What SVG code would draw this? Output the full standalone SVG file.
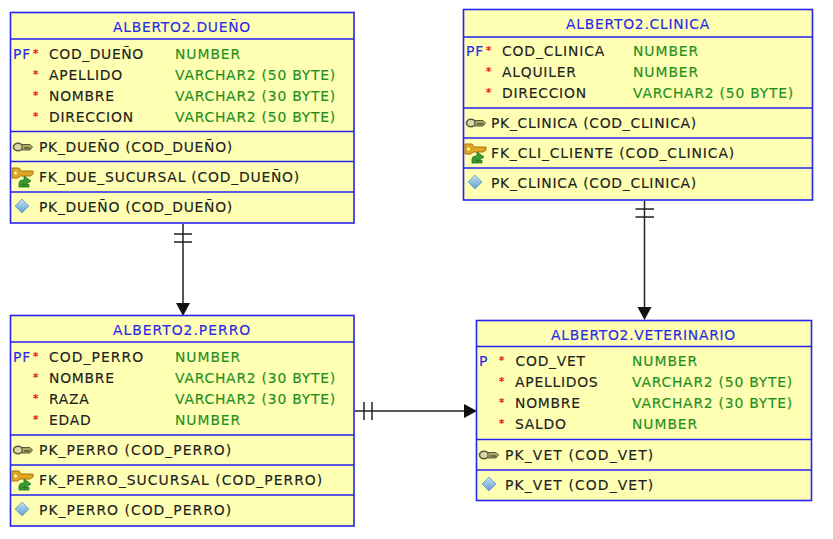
<svg xmlns="http://www.w3.org/2000/svg" xmlns:xlink="http://www.w3.org/1999/xlink" width="833" height="539" viewBox="0 0 833 539">
<style>
text{font-family:"DejaVu Sans",sans-serif;font-size:13.9px;letter-spacing:.75px;fill:#222;stroke:#222;stroke-width:.15}
.box{fill:#ffffb3;stroke:#2424f0;stroke-width:1.6}
.sep{stroke:#2424f0;stroke-width:1.6;fill:none}
text.title{fill:#2a2ae8;stroke:#2a2ae8;text-anchor:middle}
text.k{fill:#2a2ae8;stroke:#2a2ae8}
text.r{fill:#f02020;stroke:#f02020;font-size:10px;font-weight:bold;letter-spacing:0}
text.t{fill:#1f8f1f;stroke:#1f8f1f}
.c{stroke:#222;stroke-width:1.5;fill:none}
.a{fill:#111}
</style>
<defs>
<linearGradient id="dg" x1="0" y1="0" x2="0" y2="1"><stop offset="0" stop-color="#c4e2f4"/><stop offset="1" stop-color="#5f9fcf"/></linearGradient>
<g id="key"><ellipse cx="5" cy="0" rx="4.500" ry="3.800" fill="#d8d8a8" stroke="#5a5a40" stroke-width="1.600"/><path d="M9 -2.500H17L19.500 0L17 3H9Z" fill="#a8a860" stroke="#5a5a40" stroke-width="1"/><path d="M11 1H17" stroke="#333" stroke-width="1" fill="none"/></g>
<g id="fk"><path d="M0 -8H7L9 -5H21V-2L18 0H8L6 2H0Z" fill="#e0a820" stroke="#a87010" stroke-width="1"/><circle cx="3.500" cy="-3" r="1.500" fill="#ffffb3"/><path d="M7 11V7.500Q7 4 11 4H12V0L19 5L12 9.500V7.500Q10 7.500 10 8.500H17V11Z" fill="#3a9a30" stroke="#207020" stroke-width=".8"/></g>
<path id="idx" d="M7 -7L14 0L7 7L0 0Z" fill="url(#dg)" stroke="#6a9cc0" stroke-width=".8"/>
</defs>
<g id="connectors">
<path class="c" d="M183 224V305M174 234H192M174 242H192M355 411H466M364 402V420M372 402V420M644.500 201V308M635.500 209H654M635.500 217H654"/>
<path class="a" d="M176 303H190L183 316Z M637.500 307H651.500L644.500 320Z M464 404V418L477 411Z"/>
</g>
<g id="dueno">
<rect class="box" x="10.500" y="12.500" width="343.500" height="210.500"/>
<path class="sep" d="M10.500 39H354M10.500 131.500H354M10.500 161.500H354M10.500 192H354"/>
<text class="title" x="182" y="32" textLength="138">ALBERTO2.DUEÑO</text>
<text class="k" x="13" y="59">PF</text><text class="r" x="33" y="56.500">*</text><text x="49" y="59" textLength="95">COD_DUEÑO</text><text class="t" x="175" y="59" textLength="66">NUMBER</text>
<text class="r" x="33" y="77.500">*</text><text x="49" y="80">APELLIDO</text><text class="t" x="175" y="80" textLength="161">VARCHAR2 (50 BYTE)</text>
<text class="r" x="33" y="98.500">*</text><text x="49" y="101">NOMBRE</text><text class="t" x="175" y="101" textLength="161">VARCHAR2 (30 BYTE)</text>
<text class="r" x="33" y="119.500">*</text><text x="49" y="122">DIRECCION</text><text class="t" x="175" y="122" textLength="161">VARCHAR2 (50 BYTE)</text>
<use xlink:href="#key" href="#key" x="13" y="147"/><text x="39" y="152" textLength="194">PK_DUEÑO (COD_DUEÑO)</text>
<use xlink:href="#fk" href="#fk" x="12" y="176"/><text x="39" y="182" textLength="261">FK_DUE_SUCURSAL (COD_DUEÑO)</text>
<use xlink:href="#idx" href="#idx" x="15" y="206"/><text x="39" y="212" textLength="194">PK_DUEÑO (COD_DUEÑO)</text>
</g>
<g id="clinica">
<rect class="box" x="463.500" y="9.500" width="349" height="190.500"/>
<path class="sep" d="M463.500 37H812.500M463.500 108H812.500M463.500 138H812.500M463.500 168H812.500"/>
<text class="title" x="638" y="29" textLength="144">ALBERTO2.CLINICA</text>
<text class="k" x="466" y="56">PF</text><text class="r" x="486" y="53.500">*</text><text x="502" y="56" textLength="103">COD_CLINICA</text><text class="t" x="633" y="56" textLength="66">NUMBER</text>
<text class="r" x="486" y="74.500">*</text><text x="502" y="77">ALQUILER</text><text class="t" x="633" y="77" textLength="66">NUMBER</text>
<text class="r" x="486" y="95.500">*</text><text x="502" y="98">DIRECCION</text><text class="t" x="633" y="98" textLength="161">VARCHAR2 (50 BYTE)</text>
<use xlink:href="#key" href="#key" x="466" y="123"/><text x="491" y="128" textLength="206">PK_CLINICA (COD_CLINICA)</text>
<use xlink:href="#fk" href="#fk" x="465" y="152"/><text x="491" y="158" textLength="244">FK_CLI_CLIENTE (COD_CLINICA)</text>
<use xlink:href="#idx" href="#idx" x="468" y="182"/><text x="491" y="188" textLength="206">PK_CLINICA (COD_CLINICA)</text>
</g>
<g id="perro">
<rect class="box" x="10.500" y="315.500" width="343.500" height="210.500"/>
<path class="sep" d="M10.500 342H354M10.500 435H354M10.500 465H354M10.500 495H354"/>
<text class="title" x="182" y="335" textLength="138">ALBERTO2.PERRO</text>
<text class="k" x="13" y="362">PF</text><text class="r" x="33" y="359.500">*</text><text x="49" y="362" textLength="95">COD_PERRO</text><text class="t" x="175" y="362" textLength="66">NUMBER</text>
<text class="r" x="33" y="380.500">*</text><text x="49" y="383">NOMBRE</text><text class="t" x="175" y="383" textLength="161">VARCHAR2 (30 BYTE)</text>
<text class="r" x="33" y="401.500">*</text><text x="49" y="404">RAZA</text><text class="t" x="175" y="404" textLength="161">VARCHAR2 (30 BYTE)</text>
<text class="r" x="33" y="422.500">*</text><text x="49" y="425">EDAD</text><text class="t" x="175" y="425" textLength="66">NUMBER</text>
<use xlink:href="#key" href="#key" x="13" y="450"/><text x="39" y="455" textLength="193">PK_PERRO (COD_PERRO)</text>
<use xlink:href="#fk" href="#fk" x="12" y="479"/><text x="39" y="485" textLength="284">FK_PERRO_SUCURSAL (COD_PERRO)</text>
<use xlink:href="#idx" href="#idx" x="15" y="509"/><text x="39" y="515" textLength="193">PK_PERRO (COD_PERRO)</text>
</g>
<g id="veterinario">
<rect class="box" x="476.500" y="320.500" width="335" height="180"/>
<path class="sep" d="M476.500 346.500H811.500M476.500 439.500H811.500M476.500 470H811.500"/>
<text class="title" x="643.500" y="339.500" textLength="185">ALBERTO2.VETERINARIO</text>
<text class="k" x="479" y="366">P</text><text class="r" x="499" y="363.500">*</text><text x="515.500" y="366">COD_VET</text><text class="t" x="632" y="366" textLength="66">NUMBER</text>
<text class="r" x="499" y="384.500">*</text><text x="515" y="387">APELLIDOS</text><text class="t" x="632" y="387" textLength="161">VARCHAR2 (50 BYTE)</text>
<text class="r" x="499" y="405.500">*</text><text x="515" y="408">NOMBRE</text><text class="t" x="632" y="408" textLength="161">VARCHAR2 (30 BYTE)</text>
<text class="r" x="499" y="426.500">*</text><text x="515" y="429">SALDO</text><text class="t" x="632" y="429" textLength="66">NUMBER</text>
<use xlink:href="#key" href="#key" x="479" y="455"/><text x="505" y="460" textLength="149">PK_VET (COD_VET)</text>
<use xlink:href="#idx" href="#idx" x="482" y="484"/><text x="505" y="490" textLength="149">PK_VET (COD_VET)</text>
</g>
</svg>
